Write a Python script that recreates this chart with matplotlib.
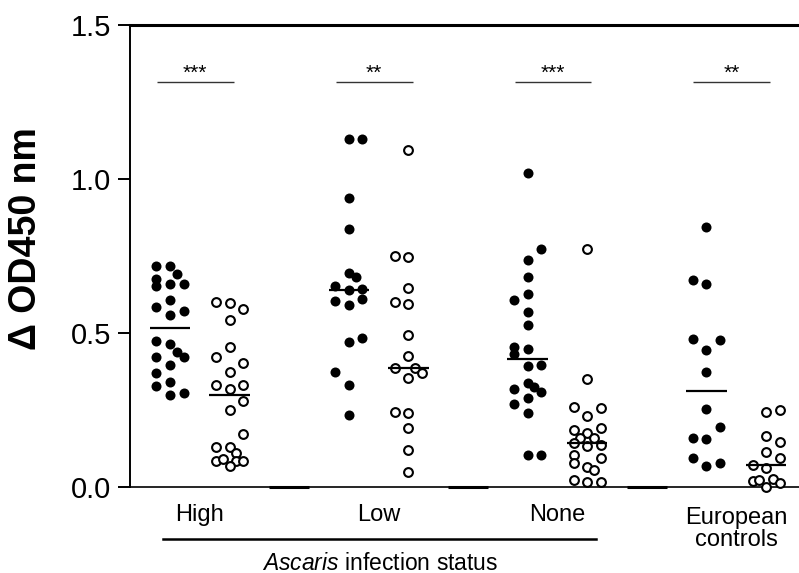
import numpy as np
import matplotlib.pyplot as plt
from matplotlib.transforms import blended_transform_factory

plt.rcParams['font.family'] = ['Liberation Sans', 'DejaVu Sans']
plt.rcParams['mathtext.fontset'] = 'custom'
plt.rcParams['mathtext.it'] = 'Liberation Sans:italic'
plt.rcParams['mathtext.rm'] = 'Liberation Sans'

groups = ['High', 'Low', 'None', 'European\ncontrols']
stars = ['***', '**', '***', '**']

# filled = first series of each group, open = second series
# values, with column offsets of the dot stacks
high_f = [0.718, 0.718, 0.692, 0.675, 0.653, 0.659, 0.659, 0.607, 0.583, 0.572, 0.558,
          0.475, 0.464, 0.439, 0.422, 0.423, 0.396, 0.369, 0.342, 0.328, 0.299, 0.304]
high_f_col = [-1, 0, 0.5, -1, -1, 0, 1, 0, -1, 1, 0, -1, 0, 0.5, 1, -1, 0, -1, 0, -1, 0, 1]
high_o = [0.602, 0.596, 0.577, 0.542, 0.456, 0.423, 0.404, 0.374, 0.331, 0.317, 0.331,
          0.280, 0.250, 0.172, 0.131, 0.129, 0.111, 0.085, 0.090, 0.085, 0.085, 0.068]
high_o_col = [-1, 0, 1, 0, 0, -1, 1, 0, -1, 0, 1, 1, 0, 1, -1, 0, 0.5, -1, -0.5, 0.5, 1, 0]

low_f = [1.129, 1.129, 0.939, 0.837, 0.696, 0.681, 0.654, 0.640, 0.642, 0.604, 0.591,
         0.610, 0.472, 0.483, 0.374, 0.331, 0.234]
low_f_col = [0, 1, 0, 0, 0, 0.5, -1, 0, 1, -1, 0, 1, 0, 1, -1, 0, 0]
low_o = [1.094, 0.750, 0.748, 0.645, 0.602, 0.593, 0.494, 0.425, 0.385, 0.385, 0.369,
         0.353, 0.245, 0.239, 0.190, 0.120, 0.050]
low_o_col = [0, -1, 0, 0, -1, 0, 0, 0, -1, 0.5, 1, 0, -1, 0, 0, 0, 0]

none_f = [1.018, 0.773, 0.737, 0.683, 0.627, 0.607, 0.569, 0.526, 0.456, 0.448, 0.432,
          0.393, 0.396, 0.339, 0.324, 0.310, 0.317, 0.288, 0.269, 0.239, 0.104, 0.104]
none_f_col = [0, 1, 0, 0, 0, -1, 0, 0, -1, 0, -1, 0, 1, 0, 0.5, 1, -1, 0, -1, 0, 0, 1]
none_o = [0.773, 0.351, 0.261, 0.258, 0.232, 0.185, 0.176, 0.190, 0.158, 0.158, 0.142,
          0.133, 0.136, 0.104, 0.093, 0.077, 0.066, 0.055, 0.023, 0.017, 0.017]
none_o_col = [0, 0, -1, 1, 0, -1, 0, 1, -0.5, 0.5, -1, 0, 1, -1, 1, -1, 0, 0.5, -1, 0, 1]

euro_f = [0.843, 0.672, 0.659, 0.479, 0.477, 0.445, 0.374, 0.252, 0.194, 0.158, 0.156,
          0.095, 0.068, 0.079]
euro_f_col = [0, -1, 0, -1, 1, 0, 0, 0, 1, -1, 0, -1, 0, 1]
euro_o = [0.243, 0.250, 0.167, 0.147, 0.113, 0.095, 0.071, 0.061, 0.019, 0.023, 0.001,
          0.025, 0.012]
euro_o_col = [0, 1, 0, 1, 0, 1, -1, 0, -1, -0.5, 0, 0.5, 1]

filled = [high_f, low_f, none_f, euro_f]
filled_col = [high_f_col, low_f_col, none_f_col, euro_f_col]
opened = [high_o, low_o, none_o, euro_o]
opened_col = [high_o_col, low_o_col, none_o_col, euro_o_col]

step = 0.227
fig = plt.figure(figsize=(7.99, 5.73), dpi=100)
ax = fig.add_axes([130/799, 1 - 487/573, 1 - 130/799, (487 - 25)/573])
blend = blended_transform_factory(ax.transData, fig.transFigure)

for i in range(4):
    xf = 3*i
    xo = 3*i + 1
    ax.scatter(xf + step*np.array(filled_col[i]), filled[i], s=52, c='black',
               linewidths=0, clip_on=False, zorder=3)
    ax.scatter(xo + step*np.array(opened_col[i]), opened[i], s=40, facecolors='white',
               edgecolors='black', linewidths=1.5, clip_on=False, zorder=3)
    ax.hlines(np.median(filled[i]), xf - 0.34, xf + 0.34, colors='black', lw=1.6, zorder=4)
    ax.hlines(np.median(opened[i]), xo - 0.34, xo + 0.34, colors='black', lw=1.6, zorder=4)
    # significance bars
    ax.hlines(1.315, xf - 0.22, xf + 1.07, colors='#333333', lw=1.0)
    ax.text(xf + 0.42, 1.325, stars[i], ha='center', va='baseline', fontsize=15)
    # category label
    lab_y = 1 - 529/573 if i == 3 else 1 - 515/573
    ax.text(xf + 0.5, lab_y, groups[i], ha='center', va='center', fontsize=17,
            linespacing=0.95, transform=blend)

# thick bits on the baseline between groups
for xg in [2, 5, 8]:
    ax.hlines(0, xg - 0.34, xg + 0.34, colors='black', lw=2.2, clip_on=False, zorder=2)

ax.plot([-0.12, 7.15], [1 - 539/573, 1 - 539/573], color='black', lw=1.8,
        transform=blend, clip_on=False)
ax.text(3.52, 1 - 563/573, r'$Ascaris$ infection status', ha='center', va='center',
        fontsize=16.5, transform=blend)

ax.set_xlim(-0.671, 10.553)
ax.set_ylim(0, 1.5)
ax.set_yticks([0.0, 0.5, 1.0, 1.5])
ax.set_yticklabels(['0.0', '0.5', '1.0', '1.5'])
ax.set_xticks([])
ax.tick_params(axis='y', length=8.5, width=1.4, pad=5, labelsize=21)
ax.spines['right'].set_visible(False)
ax.spines['top'].set_linewidth(2.2)
ax.spines['left'].set_linewidth(1.4)
ax.spines['bottom'].set_linewidth(1.2)

fig.text(26/799, 1 - 239/573, '\u0394 OD450 nm', rotation=90, ha='center', va='center',
         fontsize=27, fontweight='bold')

fig.savefig('out.png', dpi=100)
